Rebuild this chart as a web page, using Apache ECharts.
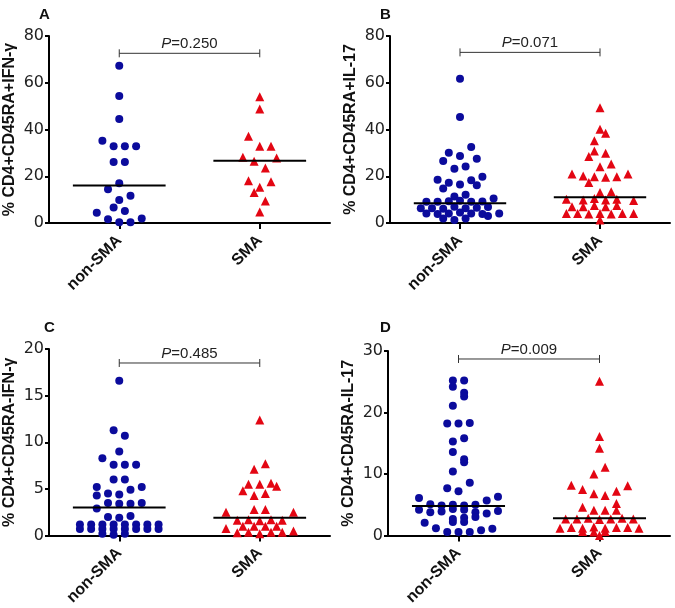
<!DOCTYPE html>
<html>
<head>
<meta charset="utf-8">
<script src="https://cdn.jsdelivr.net/npm/echarts@6/dist/echarts.min.js"></script>
<style>
  html, body { margin: 0; padding: 0; background: #fff; }
  #chart { width: 675px; height: 608px; }
</style>
</head>
<body>
<div id="chart"></div>
<script>
// groups and per-panel text
var categories = ['non-SMA', 'SMA'];
var panelLetters = ['A', 'B', 'C', 'D'];
var yNames = ['% CD4+CD45RA+IFN-γ', '% CD4+CD45RA+IL-17', '% CD4+CD45RA-IFN-γ', '% CD4+CD45RA-IL-17'];
var yMax = [80, 80, 20, 30];
var yStep = [20, 20, 5, 10];
var pValues = ['0.250', '0.071', '0.485', '0.009'];
var bracketLevel = [72.6, 73.0, 18.5, 28.7];
var medians = [[16.0, 26.6], [8.4, 11.0], [3.0, 1.9], [4.8, 2.8]];

// values, with each dot's sideways slot in the column
var aNon = [67.3, 54.3, 44.5, 35.2, 32.8, 32.8, 32.8, 26.1, 26.1, 17.0, 14.4, 11.7, 9.8, 6.6, 5.1, 4.4, 1.6, 1.9, 0.3, 0.3];
var aNonSlot = [0, 0, 0, -3, -1, 1, 3, -1, 1, 0, -2, 2, 0, -1, 1, -4, -2, 4, 0, 2];
var aSma = [54.0, 48.8, 37.1, 32.8, 32.8, 28.1, 26.4, 27.8, 23.5, 18.1, 17.7, 15.3, 13.1, 9.4, 4.7];
var aSmaSlot = [0, 0, -2, 0, 2, -3, -1, 3, 1, -2, 2, 0, -1, 1, 0];

var bNon = [61.7, 45.3, 32.5, 30.1, 28.7, 27.5, 26.5, 24.2, 23.2, 19.8, 18.5, 18.3, 17.2, 16.5, 16.1,
  14.8, 12.1, 11.3, 10.5, 9.1, 9.1, 9.3, 9.5, 9.1, 9.2, 6.3, 6.3, 6.1, 7.0, 6.3,
  6.5, 6.8, 4.1, 3.8, 4.1, 4.5, 4.1, 3.9, 4.1, 1.9, 1.3, 1.9, 3.0];
var bNonSlot = [0, 0, 2, -2, 0, 3, -3, 1, -1, 4, -4, 2, -2, 0, 3,
  -3, 1, -1, 6, -6, -4, -2, 0, 2, 4, -7, -5, -3, -1, 1,
  3, 5, -6, -4, -2, 0, 2, 4, 7, -3, -1, 1, 5];
var bSma = [49.3, 40.1, 38.4, 35.2, 30.8, 29.8, 28.4, 25.2, 24.1, 21.0, 20.1, 19.8, 19.6, 19.8, 21.0,
  17.3, 13.1, 13.4, 10.2, 9.8, 10.5, 9.8, 10.2, 9.6, 7.0, 7.0, 7.5, 7.0, 7.5, 4.1,
  4.1, 3.8, 4.1, 3.8, 4.1, 4.1, 1.3];
var bSmaSlot = [0, 0, 1, -1, -1, 1, -2, 2, 0, -5, -3, -1, 1, 3, 5,
  -2, 0, 2, -6, -3, -1, 1, 3, 6, -5, -3, -1, 1, 3, -6,
  -4, -2, 0, 2, 4, 6, 0];

var cNon = [16.6, 11.3, 10.7, 9.0, 8.3, 7.6, 7.6, 7.6, 6.0, 6.0, 5.2, 4.3, 4.5, 4.4, 4.9,
  5.2, 3.5, 3.4, 3.4, 3.5, 2.9, 2.0, 1.9, 2.1,
  1.2, 0.7, 1.2, 0.7, 1.2, 0.7, 1.2, 0.7, 1.2, 0.7, 1.2, 0.7, 1.2, 0.7, 1.2, 0.7,
  0.2, 0.1, 0.2];
var cNonSlot = [0, -1, 1, 0, -3, -1, 1, 3, -1, 1, -4, -4, -2, 0, 2,
  4, -2, 0, 2, 4, -4, -2, 0, 2,
  -7, -7, -5, -5, -3, -3, -1, -1, 1, 1, 3, 3, 5, 5, 7, 7,
  -3, -1, 1];
var cSma = [12.4, 7.7, 7.1, 5.5, 5.5, 5.6, 5.3, 4.8, 4.3, 4.5, 2.8, 2.8, 2.5, 2.5, 1.65,
  1.7, 1.6, 1.7, 1.65, 1.0, 1.0, 1.0, 1.0, 0.75, 0.3, 0.35, 0.2, 0.35, 0.35, 0.5];
var cSmaSlot = [0, 1, -1, -2, 0, 2, 3, -3, -1, 1, -1, 1, -6, 6, -4,
  -2, 0, 2, 4, -3, -1, 1, 3, -6, -4, -2, 0, 2, 4, 6];

var dNon = [25.2, 25.2, 24.2, 23.2, 22.6, 21.1, 18.2, 18.2, 18.3, 15.3, 15.8, 13.6, 12.4, 11.9, 10.4,
  8.6, 7.7, 7.2, 6.1, 6.3, 5.7, 5.1, 4.9, 5.0, 4.9, 5.0, 4.2, 3.8, 3.9, 4.3,
  4.2, 3.8, 3.6, 4.0, 2.7, 2.9, 3.0, 2.1, 2.2, 2.2, 1.2, 1.1, 0.85, 0.6, 0.6, 0.6];
var dNonSlot = [-1, 1, -1, 1, 1, -1, -2, 0, 2, -1, 1, -1, 1, 1, -1,
  2, -2, 0, -7, 7, 5, -5, -3, -1, 1, 3, -7, -5, -3, -1,
  1, 3, 5, 7, -1, 1, 3, -6, -1, 1, -4, 6, 4, -2, 0, 2];
var dSma = [25.1, 16.1, 14.2, 11.1, 10.0, 8.2, 8.1, 7.5, 7.2, 6.8, 6.5, 5.2, 4.6, 4.1, 4.1,
  4.1, 2.7, 2.7, 2.8, 2.6, 2.7, 2.8, 2.7, 1.2, 1.3, 1.2, 1.4, 1.2, 1.3, 1.3,
  1.2, 0.65, 0.6, 0.65, 0.0];
var dSmaSlot = [0, 0, 0, 1, -1, -5, 5, -3, 3, -1, 1, 3, -3, -1, 1,
  3, -6, -4, -2, 0, 2, 4, 6, -7, -5, -3, -1, 1, 3, 5,
  7, -3, -1, 1, 0];

var groups = [
  [[aNon, aNonSlot], [aSma, aSmaSlot]],
  [[bNon, bNonSlot], [bSma, bSmaSlot]],
  [[cNon, cNonSlot], [cSma, cSmaSlot]],
  [[dNon, dNonSlot], [dSma, dSmaSlot]]
];

var SLOT = 0.04;        // sideways spacing of dots, in category units
var MEDIAN_HALF = 0.33; // half length of the median bar
var FONT = 'Liberation Sans, Arial, sans-serif';

var grids = [
  { left: 49, top: 36, width: 281, height: 187 },
  { left: 390, top: 36, width: 280, height: 187 },
  { left: 49, top: 349, width: 281, height: 188 },
  { left: 388, top: 351, width: 282, height: 186 }
];
var letterPos = [[39, 7], [380, 7], [44, 320], [380, 320]];

var xAxes = [], yAxes = [], series = [], titles = [];

grids.forEach(function (g, i) {
  xAxes.push({
    type: 'value', gridIndex: i, min: 0.5, max: 2.5,
    splitLine: { show: false },
    axisLine: { onZero: false, lineStyle: { color: '#000', width: 2 } },
    axisTick: { customValues: [1, 2], length: 6, lineStyle: { color: '#000', width: 2 } },
    axisLabel: {
      customValues: [1, 2], rotate: 45, margin: 15,
      fontFamily: FONT, fontWeight: 'bold', fontSize: 16, color: '#111',
      formatter: function (v) { return categories[Math.round(v) - 1]; }
    }
  });
  yAxes.push({
    type: 'value', gridIndex: i, min: 0, max: yMax[i], interval: yStep[i],
    splitLine: { show: false },
    axisLine: { show: true, onZero: false, lineStyle: { color: '#000', width: 2 } },
    axisTick: { show: true, length: 4, lineStyle: { color: '#000', width: 2 } },
    axisLabel: { fontFamily: 'DejaVu Sans', fontSize: 16, color: '#222', margin: 5 },
    name: yNames[i], nameLocation: 'middle', nameRotate: 90, nameGap: 31,
    nameTextStyle: { fontFamily: FONT, fontWeight: 'bold', fontSize: 16, color: '#111' }
  });
  titles.push({
    text: panelLetters[i], left: letterPos[i][0], top: letterPos[i][1], padding: 0,
    textStyle: { fontFamily: FONT, fontWeight: 'bold', fontSize: 15, color: '#111' }
  });

  groups[i].forEach(function (grp, k) {
    var vals = grp[0], slots = grp[1];
    series.push({
      type: 'scatter', xAxisIndex: i, yAxisIndex: i, silent: true,
      symbol: k === 0 ? 'circle' : 'triangle',
      symbolSize: k === 0 ? 8 : 9,
      itemStyle: { color: k === 0 ? '#0b0b9c' : '#e30613', opacity: 1 },
      data: vals.map(function (v, j) { return [k + 1 + slots[j] * SLOT, v]; })
    });
  });

  series.push({
    type: 'custom', xAxisIndex: i, yAxisIndex: i, silent: true, z: 5,
    data: medians[i].map(function (m, k) { return [k + 1, m]; }),
    renderItem: function (params, api) {
      var p0 = api.coord([api.value(0) - MEDIAN_HALF, api.value(1)]);
      var p1 = api.coord([api.value(0) + MEDIAN_HALF, api.value(1)]);
      return {
        type: 'line',
        shape: { x1: p0[0], y1: p0[1], x2: p1[0], y2: p1[1] },
        style: { stroke: '#000', lineWidth: 2 }
      };
    }
  });

  series.push({
    type: 'custom', xAxisIndex: i, yAxisIndex: i, silent: true, z: 6,
    data: [[1, 2, bracketLevel[i]]],
    renderItem: function (params, api) {
      var a = api.coord([api.value(0), api.value(2)]);
      var b = api.coord([api.value(1), api.value(2)]);
      var s = { stroke: '#333', lineWidth: 1 };
      return {
        type: 'group',
        children: [
          { type: 'line', shape: { x1: a[0], y1: a[1], x2: b[0], y2: b[1] }, style: s },
          { type: 'line', shape: { x1: a[0], y1: a[1] - 4, x2: a[0], y2: a[1] + 4 }, style: s },
          { type: 'line', shape: { x1: b[0], y1: b[1] - 4, x2: b[0], y2: b[1] + 4 }, style: s },
          {
            type: 'text', x: (a[0] + b[0]) / 2, y: a[1] - 2,
            style: {
              text: '{i|P}=' + pValues[i],
              fontFamily: FONT, fontSize: 15, fill: '#222',
              align: 'center', verticalAlign: 'bottom',
              rich: { i: { fontStyle: 'italic', fontFamily: FONT, fontSize: 15, fill: '#222' } }
            }
          }
        ]
      };
    }
  });
});

var myChart = echarts.init(document.getElementById('chart'));
myChart.setOption({
  animation: false,
  backgroundColor: '#fff',
  title: titles,
  grid: grids,
  xAxis: xAxes,
  yAxis: yAxes,
  series: series
});
</script>
</body>
</html>
